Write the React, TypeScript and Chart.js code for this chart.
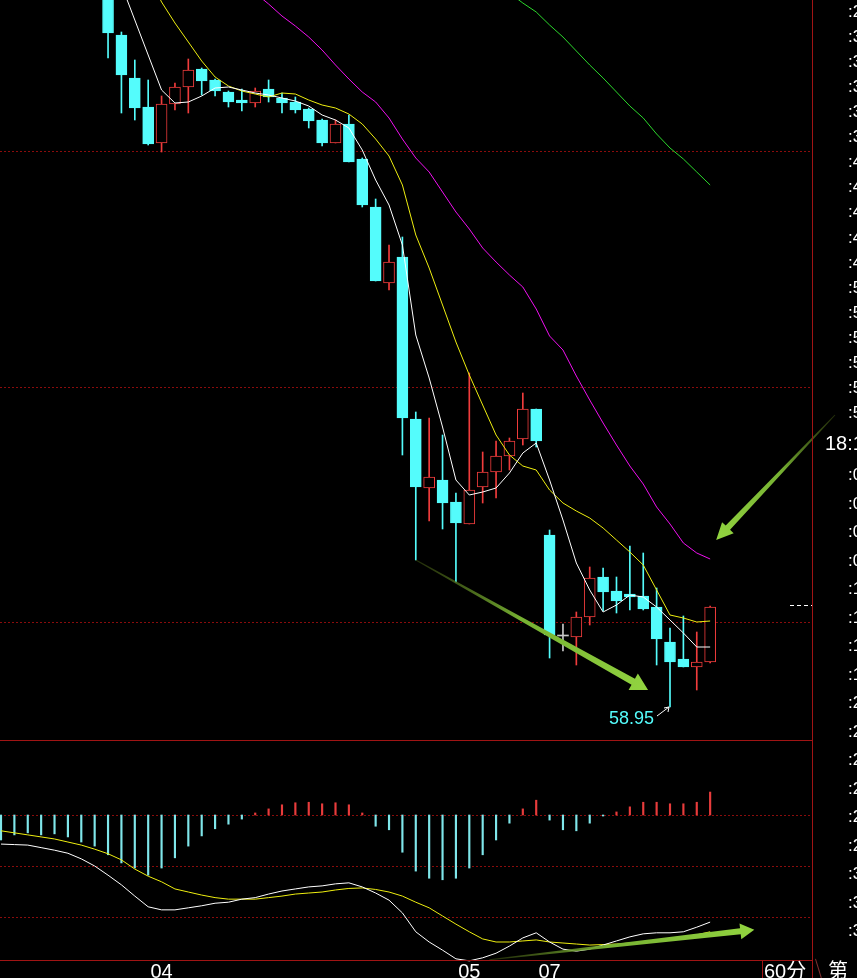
import React, { useEffect, useRef } from "react";
import { Chart, registerables } from "chart.js";

Chart.register(...registerables);

// ---------------- data ----------------
// candle index (0..53); the first 8 candles lie above the visible price range
const candleIndex: number[] = Array.from({ length: 54 }, (_, i) => i);

const opens: (number | null)[] = [
  null, null, null, null, null, null, null, null,
  96.3, 92.55, 90.4, 88.95, 87.15, 89.1, 89.95, 90.85, 90.3, 89.7,
  89.3, 89.15, 89.85, 89.4, 89.2, 88.85, 88.3, 87.15, 88.1, 86.35,
  83.95, 80.15, 81.45, 73.35, 69.9, 70.3, 69.2, 68.1, 69.95, 70.7,
  71.5, 72.35, 73.85, 67.55, 62.5, 62.45, 63.45, 65.45, 64.75, 64.6,
  64.5, 63.95, 62.2, 61.35, 60.95, 61.2,
];
const closes: (number | null)[] = [
  null, null, null, null, null, null, null, null,
  92.65, 90.55, 88.9, 87.1, 89.1, 89.95, 90.8, 90.25, 89.75, 89.2,
  89.15, 89.75, 89.45, 89.15, 88.8, 88.25, 87.15, 88.1, 86.2, 84.05,
  80.25, 81.2, 73.4, 69.95, 70.45, 69.15, 68.15, 69.8, 70.7, 71.5,
  72.25, 73.85, 72.25, 62.55, 62.5, 63.45, 65.4, 64.7, 64.25, 64.45,
  63.85, 62.35, 61.2, 60.95, 61.2, 63.95,
];
const highs: (number | null)[] = [
  null, null, null, null, null, null, null, null,
  96.8, 92.7, 91.3, 90.3, 89.5, 90.15, 91.35, 90.9, 90.35, 89.75,
  89.85, 89.9, 90.3, 89.65, 89.45, 88.9, 88.35, 88.3, 88.55, 86.4,
  84.35, 82.05, 82.45, 73.7, 73.4, 72.55, 69.65, 75.65, 71.7, 72.25,
  72.4, 74.65, 73.85, 67.8, 63.1, 63.7, 65.95, 65.9, 65.45, 67.0,
  66.65, 64.9, 62.9, 63.5, 62.7, 64.0,
];
const lows: (number | null)[] = [
  null, null, null, null, null, null, null, null,
  91.4, 88.65, 88.3, 87.05, 86.7, 88.8, 88.65, 89.55, 89.5, 88.95,
  88.75, 88.95, 89.2, 88.65, 88.65, 87.9, 87.0, 87.15, 86.2, 83.95,
  80.25, 79.8, 71.55, 66.3, 68.25, 67.85, 65.2, 68.1, 69.15, 69.4,
  70.8, 72.05, 71.95, 61.4, 61.75, 61.05, 63.05, 63.75, 63.65, 63.8,
  63.8, 61.05, 58.95, 60.95, 59.8, 61.15,
];

const ma5: (number | null)[] = [
  null, null, null, null, null, null, null, null,
  97.3, 95.05, 93.3, 91.55, 89.8, 89.15, 89.2, 89.5, 89.9, 89.95,
  89.8, 89.65, 89.55, 89.4, 89.25, 89.0, 88.55, 88.3, 87.9, 86.8,
  85.3, 84.05, 82.05, 77.55, 75.4, 72.95, 70.3, 69.55, 69.7, 69.9,
  70.65, 71.65, 72.15, 70.3, 68.3, 66.15, 64.8, 63.7, 64.05, 64.55,
  64.45, 63.95, 63.3, 62.65, 61.95, 61.95,
];
const ma10: (number | null)[] = [
  null, null, null, null, null, null, null, null,
  100.8, 99.05, 97.3, 95.55, 94.2, 93.15, 92.2, 91.25, 90.45, 90.0,
  89.75, 89.6, 89.45, 89.65, 89.6, 89.3, 89.05, 88.9, 88.6, 88.1,
  87.35, 86.5, 85.05, 82.55, 80.9, 79.05, 77.2, 75.55, 74.05, 72.55,
  71.55, 71.0, 70.8, 69.8, 69.15, 68.75, 68.4, 67.9, 67.3, 66.7,
  66.05, 64.8, 63.55, 63.4, 63.2, 63.25,
];
const ma20: (number | null)[] = [
  null, null, null, null, null, null, null, null,
  100.9, 100.35, 99.8, 99.25, 98.7, 98.1, 97.55, 97.0, 96.4, 95.85,
  95.25, 94.65, 94.1, 93.5, 93.0, 92.45, 91.8, 91.05, 90.35, 89.7,
  89.2, 88.4, 87.35, 86.4, 85.7, 84.7, 83.7, 82.85, 81.9, 81.2,
  80.55, 79.95, 78.85, 77.5, 76.8, 75.5, 74.3, 73.15, 72.05, 71.0,
  70.1, 68.95, 68.1, 67.15, 66.65, 66.35,
];
const ma60: (number | null)[] = [
  null, null, null, null, null, null, null, null,
  null, null, null, null, null, null, null, null, null, null,
  null, null, null, null, null, null, null, null, null, null,
  null, null, null, null, null, null, null, null, null, null,
  94.65, 94.15, 93.7, 93.05, 92.45, 91.75, 91.05, 90.4, 89.7, 89.0,
  88.4, 87.6, 86.9, 86.35, 85.7, 85.05,
];

const macdHist: number[] = [
  -0.49, -0.39, -0.35, -0.39, -0.37, -0.43, -0.53, -0.61, -0.78, -0.94,
  -1.04, -1.18, -1.04, -0.84, -0.61, -0.41, -0.27, -0.18, -0.08, 0.04,
  0.12, 0.2, 0.24, 0.25, 0.22, 0.24, 0.2, 0.04, -0.22, -0.29,
  -0.73, -1.1, -1.24, -1.27, -1.24, -1.04, -0.78, -0.49, -0.16, 0.12,
  0.29, -0.1, -0.29, -0.31, -0.16, -0.02, 0.06, 0.16, 0.25, 0.25,
  0.22, 0.22, 0.25, 0.45,
];
const macdDif: number[] = [
  -0.57, -0.58, -0.59, -0.64, -0.69, -0.75, -0.86, -1.0, -1.18, -1.37,
  -1.59, -1.8, -1.86, -1.86, -1.82, -1.78, -1.73, -1.71, -1.65, -1.62,
  -1.55, -1.49, -1.45, -1.41, -1.39, -1.35, -1.33, -1.41, -1.53, -1.67,
  -1.92, -2.29, -2.49, -2.65, -2.82, -2.86, -2.8, -2.71, -2.57, -2.41,
  -2.31, -2.49, -2.63, -2.67, -2.63, -2.55, -2.47, -2.39, -2.33, -2.31,
  -2.31, -2.29, -2.2, -2.1,
];
const macdDea: number[] = [
  -0.31, -0.35, -0.39, -0.43, -0.47, -0.53, -0.59, -0.67, -0.76, -0.88,
  -1.06, -1.2, -1.31, -1.45, -1.51, -1.57, -1.62, -1.65, -1.65, -1.65,
  -1.62, -1.59, -1.55, -1.53, -1.51, -1.47, -1.44, -1.43, -1.46, -1.51,
  -1.59, -1.71, -1.82, -1.98, -2.14, -2.29, -2.43, -2.49, -2.49, -2.47,
  -2.45, -2.49, -2.51, -2.53, -2.55, -2.54, -2.53, -2.51, -2.49, -2.45,
  -2.43, -2.39, -2.35, -2.29,
];

const dateTickIndex: number[] = [12, 35, 41];
const dateTickLabels: string[] = ["04", "05", "07"];
const priceGridLevels: number[] = [86.75, 74.95, 63.2];
const macdGridLevels: number[] = [0, -1, -2];
const lowMarkIndex = 50;
const lowMarkText = "58.95";

// hand-drawn arrows (index, value)
const arrowPriceDown = { from: [31, 66.3], to: [48.36, 59.8] };
const arrowPriceUpper = { from: [62.33, 73.55], to: [53.45, 67.3] };
const arrowMacd = { from: [36.5, -2.84], to: [56.3, -2.25] };

// right-hand tick tape (cut off by the window edge)
const tapeTop: string[] = [":2", ":3", ":3", ":3", ":3", ":3", ":4", ":4", ":4", ":4", ":4", ":5", ":5", ":5", ":5", ":5", ":5"];
const tapeHeader = "18:1";
const tapeBottom: string[] = [":0", ":0", ":0", ":0", ":1", ":1", ":1", ":1", ":2", ":2", ":2", ":2", ":2", ":2", ":3", ":3", ":3"];
const periodLabel = "60分";
const tabLabel = "第";

// ---------------- styles ----------------
const W = 857;
const H = 978;
const PLOT_RIGHT = 813;
const PRICE_H = 741;
const MACD_TOP = 741;
const X_MIN = -0.075;
const X_MAX = X_MIN + PLOT_RIGHT / 13.38;
const CYAN = "#54fcfc";
const RED = "#f03c3c";
const FRAME = "#a01414";
const GRID = "#8a0c0c";
const FONT = 'Arial, "Liberation Sans", sans-serif';

function drawArrow(ctx: CanvasRenderingContext2D, x1: number, y1: number, x2: number, y2: number,
  tailW: number, bodyW: number, headW: number, headL: number) {
  const dx = x2 - x1, dy = y2 - y1;
  const len = Math.hypot(dx, dy);
  const ux = dx / len, uy = dy / len;
  const nx = -uy, ny = ux;
  const bx = x2 - ux * headL, by = y2 - uy * headL;
  const g = ctx.createLinearGradient(x1, y1, x2, y2);
  g.addColorStop(0, "rgba(70,90,20,0.5)");
  g.addColorStop(0.45, "#76b032");
  g.addColorStop(1, "#92d440");
  ctx.beginPath();
  ctx.moveTo(x1 + nx * tailW / 2, y1 + ny * tailW / 2);
  ctx.lineTo(bx + nx * bodyW / 2, by + ny * bodyW / 2);
  ctx.lineTo(bx + nx * headW / 2, by + ny * headW / 2);
  ctx.lineTo(x2, y2);
  ctx.lineTo(bx - nx * headW / 2, by - ny * headW / 2);
  ctx.lineTo(bx - nx * bodyW / 2, by - ny * bodyW / 2);
  ctx.lineTo(x1 - nx * tailW / 2, y1 - ny * tailW / 2);
  ctx.closePath();
  ctx.fillStyle = g;
  ctx.fill();
}

function drawGrid(chart: any, levels: number[]) {
  const { ctx, chartArea } = chart;
  const ys = chart.scales.y;
  ctx.save();
  ctx.strokeStyle = GRID;
  ctx.lineWidth = 1;
  ctx.setLineDash([2, 2]);
  levels.forEach((v) => {
    const y = Math.round(ys.getPixelForValue(v)) + 0.5;
    ctx.beginPath();
    ctx.moveTo(chartArea.left, y);
    ctx.lineTo(chartArea.right, y);
    ctx.stroke();
  });
  ctx.restore();
}

const pricePlugin = {
  id: "priceExtras",
  beforeDatasetsDraw(chart: any) {
    drawGrid(chart, priceGridLevels);
  },
  afterDatasetsDraw(chart: any) {
    const { ctx, chartArea } = chart;
    const xs = chart.scales.x, ys = chart.scales.y;
    ctx.save();
    // last price marker
    const lastClose = closes[closes.length - 1] as number;
    const yl = Math.round(ys.getPixelForValue(lastClose)) - 1.5;
    ctx.strokeStyle = "#ffffff";
    ctx.setLineDash([4, 3]);
    ctx.beginPath();
    ctx.moveTo(chartArea.right - 23, yl);
    ctx.lineTo(chartArea.right - 1, yl);
    ctx.stroke();
    ctx.setLineDash([]);
    // lowest price label
    const lx = xs.getPixelForValue(lowMarkIndex);
    const ly = ys.getPixelForValue(lows[lowMarkIndex] as number);
    ctx.strokeStyle = "#ffffff";
    ctx.lineWidth = 1;
    ctx.beginPath();
    ctx.moveTo(lx - 13, ly + 9);
    ctx.lineTo(lx - 1, ly);
    ctx.moveTo(lx - 1, ly);
    ctx.lineTo(lx - 6, ly + 1);
    ctx.moveTo(lx - 1, ly);
    ctx.lineTo(lx - 2, ly + 5);
    ctx.stroke();
    ctx.fillStyle = CYAN;
    ctx.font = `18px ${FONT}`;
    ctx.textAlign = "right";
    ctx.textBaseline = "middle";
    ctx.fillText(lowMarkText, lx - 16, ly + 12);
    // arrows
    const p = (pt: number[]) => [xs.getPixelForValue(pt[0]), ys.getPixelForValue(pt[1])];
    let a = p(arrowPriceDown.from), b = p(arrowPriceDown.to);
    drawArrow(ctx, a[0], a[1], b[0], b[1], 1, 7, 19, 17);
    a = p(arrowPriceUpper.from); b = p(arrowPriceUpper.to);
    drawArrow(ctx, a[0], a[1], b[0], b[1], 1, 6, 16, 17);
    ctx.restore();
  },
};

const macdPlugin = {
  id: "macdExtras",
  beforeDatasetsDraw(chart: any) {
    drawGrid(chart, macdGridLevels);
  },
  afterDatasetsDraw(chart: any) {
    const { ctx } = chart;
    const xs = chart.scales.x, ys = chart.scales.y;
    const p = (pt: number[]) => [xs.getPixelForValue(pt[0]), ys.getPixelForValue(pt[1])];
    const a = p(arrowMacd.from), b = p(arrowMacd.to);
    ctx.save();
    drawArrow(ctx, a[0], a[1], b[0], b[1], 1, 6, 16, 14);
    ctx.restore();
  },
};

function lineSet(values: (number | null)[], color: string) {
  return {
    type: "line" as const,
    data: candleIndex.filter((i) => values[i] != null).map((i) => ({ x: i, y: values[i] as number })),
    borderColor: color,
    borderWidth: 1,
    pointRadius: 0,
    fill: false,
    tension: 0,
    order: 0,
  };
}

export default function App() {
  const priceRef = useRef<HTMLCanvasElement>(null);
  const macdRef = useRef<HTMLCanvasElement>(null);

  useEffect(() => {
    document.body.style.margin = "0";
    document.body.style.background = "#000";
    document.body.style.overflow = "hidden";

    const vis = candleIndex.filter((i) => opens[i] != null);
    const isUp = (i: number) => (closes[i] as number) > (opens[i] as number);
    const isFlat = (i: number) => closes[i] === opens[i];
    const candleColor = (i: number) => (isFlat(i) ? "#c8c8c8" : isUp(i) ? RED : CYAN);

    const priceChart = new Chart(priceRef.current as HTMLCanvasElement, {
      type: "bar",
      data: {
        datasets: [
          {
            type: "bar",
            data: vis.map((i) => ({ x: i, y: [lows[i] as number, highs[i] as number] })),
            backgroundColor: vis.map(candleColor),
            barThickness: 1,
            grouped: false,
            order: 3,
          } as any,
          {
            type: "bar",
            data: vis.map((i) => ({ x: i, y: [opens[i] as number, closes[i] as number] })),
            backgroundColor: vis.map((i) => (isFlat(i) ? "#c8c8c8" : isUp(i) ? "#000000" : CYAN)),
            borderColor: vis.map(candleColor),
            borderWidth: vis.map((i) => (isFlat(i) ? 0 : 1)),
            borderSkipped: false,
            barThickness: 11,
            minBarLength: 1,
            grouped: false,
            order: 2,
          } as any,
          lineSet(ma5, "#ffffff"),
          lineSet(ma10, "#eeee10"),
          lineSet(ma20, "#f010f0"),
          lineSet(ma60, "#2cd82c"),
        ],
      },
      options: {
        responsive: false,
        animation: false,
        events: [],
        layout: { autoPadding: false, padding: { left: 0, right: W - PLOT_RIGHT, top: 0, bottom: 0 } },
        plugins: { legend: { display: false }, tooltip: { enabled: false } },
        scales: {
          x: { type: "linear", min: X_MIN, max: X_MAX, offset: false, display: false },
          y: { type: "linear", min: 57.25, max: 94.3, display: false },
        },
      } as any,
      plugins: [pricePlugin],
    });

    const macdChart = new Chart(macdRef.current as HTMLCanvasElement, {
      type: "bar",
      data: {
        datasets: [
          {
            type: "bar",
            data: candleIndex.map((i) => ({ x: i, y: macdHist[i] })),
            backgroundColor: candleIndex.map((i) => (macdHist[i] >= 0 ? "#e83c3c" : "#7fe6ea")),
            barThickness: 1.5,
            grouped: false,
            order: 2,
          } as any,
          { ...lineSet(macdDif, "#ffffff") },
          { ...lineSet(macdDea, "#eeee10") },
        ],
      },
      options: {
        responsive: false,
        animation: false,
        events: [],
        layout: { autoPadding: false, padding: { left: 0, right: W - PLOT_RIGHT, top: 0, bottom: 0 } },
        plugins: { legend: { display: false }, tooltip: { enabled: false } },
        scales: {
          x: {
            type: "linear",
            min: X_MIN,
            max: X_MAX,
            offset: false,
            grid: { display: false, drawTicks: false },
            border: { display: false },
            afterBuildTicks: (axis: any) => {
              axis.ticks = dateTickIndex.map((v) => ({ value: v }));
            },
            afterFit: (axis: any) => {
              axis.height = 15;
            },
            ticks: {
              autoSkip: false,
              maxRotation: 0,
              minRotation: 0,
              padding: 0,
              color: "#ffffff",
              font: { family: FONT, size: 20, lineHeight: 0.9 },
              callback: (v: any) => {
                const k = dateTickIndex.indexOf(Number(v));
                return k >= 0 ? dateTickLabels[k] : "";
              },
            },
          },
          y: { type: "linear", min: -2.902, max: 1.451, display: false },
        },
      } as any,
      plugins: [macdPlugin],
    });

    return () => {
      priceChart.destroy();
      macdChart.destroy();
    };
  }, []);

  const tapeStyle: React.CSSProperties = {
    position: "absolute",
    left: 848,
    color: "#ffffff",
    fontFamily: FONT,
    fontSize: 17,
    lineHeight: "20px",
    whiteSpace: "nowrap",
  };

  return (
    <div style={{ position: "relative", width: W, height: H, overflow: "hidden", background: "#000" }}>
      <canvas ref={priceRef} width={W} height={PRICE_H} style={{ position: "absolute", left: 0, top: 0 }} />
      <canvas ref={macdRef} width={W} height={H - MACD_TOP} style={{ position: "absolute", left: 0, top: MACD_TOP }} />
      {/* frame lines */}
      <div style={{ position: "absolute", left: 0, top: 740, width: PLOT_RIGHT, height: 1, background: FRAME }} />
      <div style={{ position: "absolute", left: 0, top: 960, width: PLOT_RIGHT, height: 1, background: FRAME }} />
      <div style={{ position: "absolute", left: 812, top: 0, width: 1, height: H, background: FRAME }} />
      <div style={{ position: "absolute", left: 762, top: 960, width: 1, height: 18, background: FRAME }} />
      <div style={{ position: "absolute", left: 815, top: 959, width: 1, height: 20, background: "#803030", transform: "rotate(-17deg)", transformOrigin: "top left" }} />
      {/* period tab */}
      <div style={{ position: "absolute", left: 764, top: 959, color: "#fff", fontFamily: 'Arial, "Noto Sans CJK SC", sans-serif', fontSize: 20, lineHeight: "24px", whiteSpace: "nowrap" }}>{periodLabel}</div>
      <div style={{ position: "absolute", left: 828, top: 958, color: "#fff", fontFamily: '"Noto Sans CJK SC", sans-serif', fontSize: 20, lineHeight: "24px" }}>{tabLabel}</div>
      {/* tick tape */}
      {tapeTop.map((t, k) => (
        <div key={"t" + k} style={{ ...tapeStyle, top: 2 + k * 25.06 }}>{t}</div>
      ))}
      <div style={{ ...tapeStyle, left: 825, top: 431, fontSize: 20, lineHeight: "24px" }}>{tapeHeader}</div>
      {tapeBottom.map((t, k) => (
        <div key={"b" + k} style={{ ...tapeStyle, top: 465 + k * 28.5 }}>{t}</div>
      ))}
    </div>
  );
}
